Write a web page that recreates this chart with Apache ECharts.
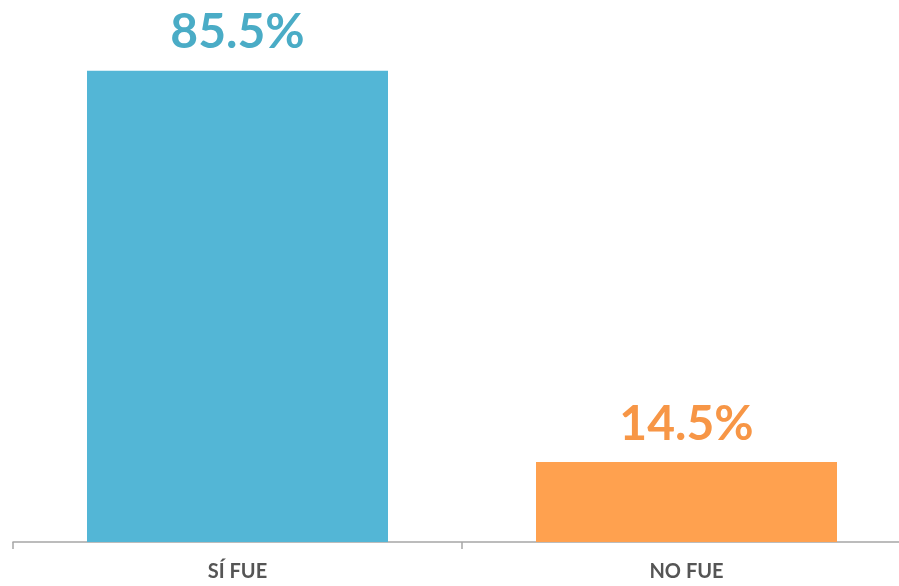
<!DOCTYPE html>
<html><head><meta charset="utf-8">
<script src="https://cdn.jsdelivr.net/npm/echarts@6/dist/echarts.min.js"></script>
<style>html,body{margin:0;padding:0;background:#fff}#c{width:899px;height:586px}</style>
</head><body><div id="c"></div>
<script>
const categories = ["SÍ FUE", "NO FUE"];
const values = [85.5, 14.5];
const barColors = ["#53b6d6", "#ffa14f"];
const labelColors = ["#4aacc6", "#f79646"];

const chart = echarts.init(document.getElementById('c'));
chart.setOption({
  animation: false,
  grid: { left: 13, width: 898, top: 46, bottom: 44, outerBoundsMode: 'none', containLabel: false },
  xAxis: {
    type: 'category', data: categories,
    axisLine: { lineStyle: { color: '#a6a6a6', width: 1.5 } },
    axisTick: { show: true, length: 7, lineStyle: { color: '#a6a6a6', width: 1.5 } },
    axisLabel: { color: '#555555', fontFamily: 'Lato', fontWeight: 'bold', fontSize: 20, margin: 20 }
  },
  yAxis: { type: 'value', min: 0, max: 90, show: false, splitLine: { show: false } },
  series: [{
    type: 'bar', barWidth: 301,
    data: values.map((v, i) => ({ value: v, itemStyle: { color: barColors[i] },
      label: { color: labelColors[i] } })),
    label: { show: true, position: 'top', distance: 14, fontFamily: 'Lato', fontWeight: 'bold', fontSize: 48,
      formatter: p => p.value.toFixed(1) + '%' }
  }]
});
</script></body></html>
